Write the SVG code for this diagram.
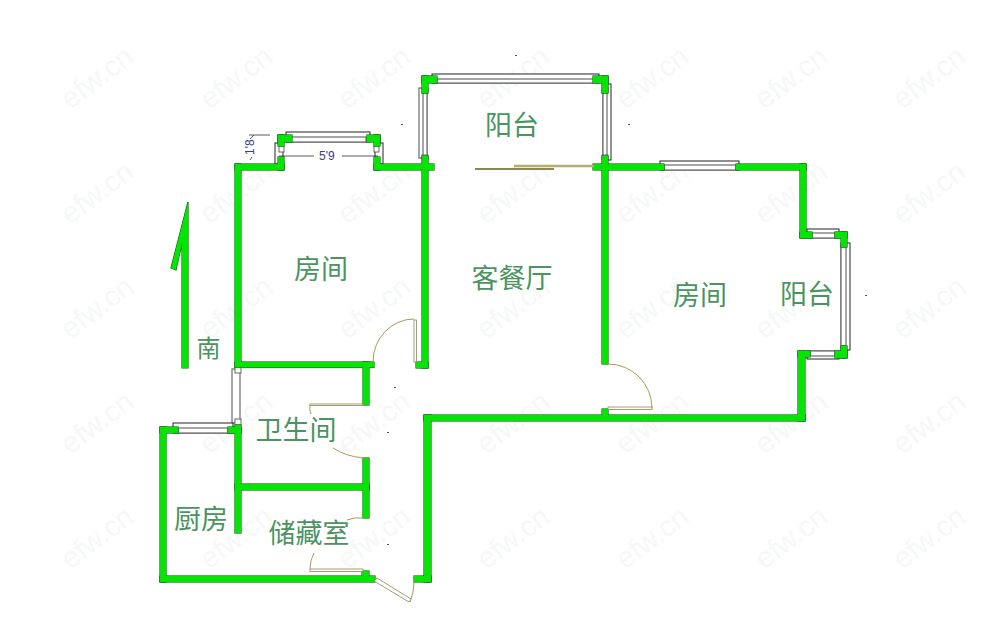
<svg xmlns="http://www.w3.org/2000/svg" width="1000" height="637" viewBox="0 0 1000 637">
<style>
.wo{fill:#0a6a0a;stroke:#0a6a0a;stroke-width:1.2}
.wf{fill:#06e406;stroke:none}
.win{fill:#fff;stroke:#222;stroke-width:1}
.wing{fill:#fff;stroke:#777;stroke-width:1.3}
.end{fill:#fff;stroke:#444;stroke-width:0.8}
.door{fill:none;stroke:#a89a58;stroke-width:1}
.leaf{fill:#fff;stroke:#8f8650;stroke-width:0.8}
.lab{font-family:"Noto Sans CJK SC","Noto Sans",sans-serif;font-size:27px;fill:#4a9460;text-anchor:middle}
.wm{font-family:"Liberation Sans",sans-serif;font-size:29px;fill:#f6f8f8}
.dim{font-family:"Liberation Sans",sans-serif;font-size:12px;fill:#3c3c8c}
.dot{fill:#555}
</style>
<defs>
<g id="w">
<rect x="235" y="164" width="6" height="203"/>
<rect x="235" y="425" width="6" height="108"/>
<rect x="235" y="164" width="49" height="6"/>
<rect x="278" y="157" width="6" height="13"/>
<rect x="278" y="135" width="14" height="7"/>
<rect x="278" y="135" width="6" height="11"/>
<rect x="367" y="135" width="13" height="7"/>
<rect x="374" y="135" width="6" height="11"/>
<rect x="374" y="157" width="6" height="13"/>
<rect x="374" y="164" width="60" height="6"/>
<rect x="235" y="362" width="139" height="5.500"/>
<rect x="363" y="362" width="6" height="43"/>
<rect x="422" y="76" width="15" height="7"/>
<rect x="422" y="76" width="6" height="17"/>
<rect x="422" y="156" width="6" height="212"/>
<rect x="416" y="362" width="12" height="6"/>
<rect x="593" y="76" width="15" height="7"/>
<rect x="602" y="76" width="6" height="17"/>
<rect x="602" y="156" width="6" height="208"/>
<rect x="593" y="164" width="71" height="6"/>
<rect x="736" y="164" width="70" height="6"/>
<rect x="800" y="164" width="6" height="74"/>
<rect x="800" y="232" width="12" height="6"/>
<rect x="835" y="232" width="12" height="6"/>
<rect x="841" y="232" width="6" height="15"/>
<rect x="841" y="346" width="6" height="12"/>
<rect x="835" y="351" width="12" height="7"/>
<rect x="798" y="351" width="12" height="6"/>
<rect x="798" y="351" width="7" height="70"/>
<rect x="424" y="415" width="381" height="6"/>
<rect x="602" y="409" width="6" height="6"/>
<rect x="424" y="415" width="7" height="167"/>
<rect x="414" y="576" width="17" height="6"/>
<rect x="160" y="576" width="215" height="6"/>
<rect x="362" y="571" width="7" height="6"/>
<rect x="160" y="427" width="6" height="155"/>
<rect x="160" y="427" width="18" height="6"/>
<rect x="228" y="427" width="13" height="6"/>
<rect x="235" y="484" width="134" height="6"/>
<rect x="363" y="458" width="6" height="60"/>
<path d="M188 202V368H182V243L176 270L171 268Z"/>
</g>
</defs>
<rect width="1000" height="637" fill="#fff"/>
<g id="watermarks">
<text class="wm" transform="translate(70,110) rotate(-37)">efw.cn</text>
<text class="wm" transform="translate(209,110) rotate(-37)">efw.cn</text>
<text class="wm" transform="translate(347,110) rotate(-37)">efw.cn</text>
<text class="wm" transform="translate(486,110) rotate(-37)">efw.cn</text>
<text class="wm" transform="translate(625,110) rotate(-37)">efw.cn</text>
<text class="wm" transform="translate(764,110) rotate(-37)">efw.cn</text>
<text class="wm" transform="translate(902,110) rotate(-37)">efw.cn</text>
<text class="wm" transform="translate(70,225) rotate(-37)">efw.cn</text>
<text class="wm" transform="translate(209,225) rotate(-37)">efw.cn</text>
<text class="wm" transform="translate(347,225) rotate(-37)">efw.cn</text>
<text class="wm" transform="translate(486,225) rotate(-37)">efw.cn</text>
<text class="wm" transform="translate(625,225) rotate(-37)">efw.cn</text>
<text class="wm" transform="translate(764,225) rotate(-37)">efw.cn</text>
<text class="wm" transform="translate(902,225) rotate(-37)">efw.cn</text>
<text class="wm" transform="translate(70,340) rotate(-37)">efw.cn</text>
<text class="wm" transform="translate(209,340) rotate(-37)">efw.cn</text>
<text class="wm" transform="translate(347,340) rotate(-37)">efw.cn</text>
<text class="wm" transform="translate(486,340) rotate(-37)">efw.cn</text>
<text class="wm" transform="translate(625,340) rotate(-37)">efw.cn</text>
<text class="wm" transform="translate(764,340) rotate(-37)">efw.cn</text>
<text class="wm" transform="translate(902,340) rotate(-37)">efw.cn</text>
<text class="wm" transform="translate(70,455) rotate(-37)">efw.cn</text>
<text class="wm" transform="translate(209,455) rotate(-37)">efw.cn</text>
<text class="wm" transform="translate(347,455) rotate(-37)">efw.cn</text>
<text class="wm" transform="translate(486,455) rotate(-37)">efw.cn</text>
<text class="wm" transform="translate(625,455) rotate(-37)">efw.cn</text>
<text class="wm" transform="translate(764,455) rotate(-37)">efw.cn</text>
<text class="wm" transform="translate(902,455) rotate(-37)">efw.cn</text>
<text class="wm" transform="translate(70,570) rotate(-37)">efw.cn</text>
<text class="wm" transform="translate(209,570) rotate(-37)">efw.cn</text>
<text class="wm" transform="translate(347,570) rotate(-37)">efw.cn</text>
<text class="wm" transform="translate(486,570) rotate(-37)">efw.cn</text>
<text class="wm" transform="translate(625,570) rotate(-37)">efw.cn</text>
<text class="wm" transform="translate(764,570) rotate(-37)">efw.cn</text>
<text class="wm" transform="translate(902,570) rotate(-37)">efw.cn</text>
</g>
<g id="windows">
<rect class="win" x="286" y="132" width="84" height="10"/>
<rect class="wing" x="291" y="137" width="75" height="5"/>
<rect class="win" x="275" y="143" width="8" height="21"/>
<rect class="win" x="375" y="143" width="8" height="21"/>
<rect class="end" x="279" y="146" width="5" height="6"/>
<rect class="end" x="374" y="146" width="5" height="6"/>
<rect class="win" x="432" y="74" width="167" height="9"/>
<rect class="wing" x="437" y="79" width="157" height="4"/>
<rect class="wing" x="419" y="88" width="8" height="70"/>
<rect class="wing" x="423" y="88" width="4" height="70"/>
<rect class="win" x="603" y="84" width="8" height="76"/>
<rect class="wing" x="603" y="88" width="4" height="68"/>
<rect class="end" x="422" y="88" width="6" height="5"/>
<rect class="end" x="422" y="155" width="6" height="5"/>
<rect class="end" x="602" y="88" width="6" height="5"/>
<rect class="end" x="602" y="155" width="6" height="5"/>
<rect class="win" x="660" y="161" width="79" height="9"/>
<rect class="wing" x="664" y="165" width="72" height="5"/>
<rect class="win" x="807" y="229" width="32" height="9"/>
<rect class="wing" x="812" y="233" width="23" height="5"/>
<rect class="win" x="841" y="243" width="9" height="107"/>
<rect class="wing" x="841" y="247" width="5" height="99"/>
<rect class="win" x="807" y="351" width="32" height="8"/>
<rect class="wing" x="810" y="351" width="25" height="5"/>
<rect class="wing" x="232" y="369" width="8" height="54"/>
<rect class="end" x="235" y="367" width="6" height="6"/>
<rect class="end" x="235" y="419" width="6" height="6"/>
<rect class="win" x="173" y="423" width="60" height="10"/>
<rect class="wing" x="178" y="428" width="50" height="5"/>
</g>
<g id="walls">
<use href="#w" class="wo"/>
<use href="#w" class="wf"/>
</g>
<g id="doors">
<rect class="leaf" x="414" y="320" width="2.500" height="42"/>
<path class="door" d="M414 319A41 43 0 0 0 373 362"/>
<rect class="leaf" x="608" y="407" width="44" height="2.500"/>
<path class="door" d="M608 364A44 44 0 0 1 652 408"/>
<rect class="leaf" x="310" y="404" width="53" height="1.500"/>
<path class="door" d="M310 405Q309 410 311 414M333 448Q345 456 363 458"/>
<rect class="leaf" x="310" y="569" width="53" height="2.500"/>
<path class="door" d="M310 569Q310 560 314 553M347 520Q354 517 363 518"/>
<path class="leaf" d="M374 581L409 602L411 599L377 578Z"/>
<path class="door" d="M414 582Q414 592 410 602"/>
<path d="M475 169H554" stroke="#8f8650" stroke-width="2" fill="none"/>
<path d="M514 166H594" stroke="#b5ae70" stroke-width="2.500" fill="none"/>
</g>
<g id="dimensions" fill="none" stroke="#333" stroke-width="0.800">
<path d="M249 135H270M254 135L250 139M250 160L252 157M279 156H314M342 156H378"/>
</g>
<text class="dim" x="319" y="160">5'9</text>
<text class="dim" transform="translate(254,155) rotate(-90)">1'8</text>
<g id="labels">
<text class="lab" x="512" y="135">阳台</text>
<text class="lab" x="321" y="279">房间</text>
<text class="lab" x="512" y="288">客餐厅</text>
<text class="lab" x="700" y="305">房间</text>
<text class="lab" x="807" y="304">阳台</text>
<text class="lab" x="208.500" y="357" style="font-size:24px">南</text>
<text class="lab" x="296" y="440">卫生间</text>
<text class="lab" x="201" y="529">厨房</text>
<text class="lab" x="309" y="543">储藏室</text>
</g>
<g id="specks">
<rect class="dot" x="515" y="55" width="2" height="1"/>
<rect class="dot" x="401" y="124" width="2" height="1"/>
<rect class="dot" x="628" y="124" width="2" height="1"/>
<rect class="dot" x="865" y="295" width="2" height="1"/>
<rect class="dot" x="394" y="387" width="2" height="1"/>
<rect class="dot" x="387" y="432" width="2" height="1"/>
<rect class="dot" x="387" y="544" width="2" height="1"/>
</g>
</svg>
